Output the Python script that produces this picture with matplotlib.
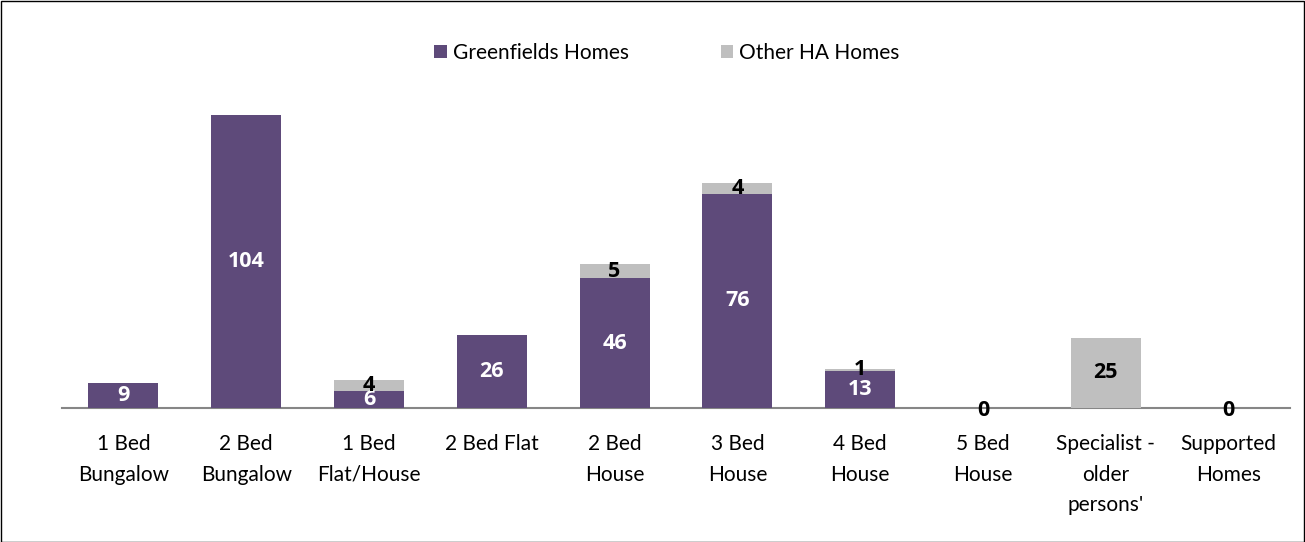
import matplotlib
matplotlib.use('Agg')
import matplotlib.pyplot as plt
import numpy as np

# categories and values
categories = ['1 Bed\nBungalow', '2 Bed\nBungalow', '1 Bed\nFlat/House', '2 Bed Flat',
              '2 Bed\nHouse', '3 Bed\nHouse', '4 Bed\nHouse', '5 Bed\nHouse',
              "Specialist -\nolder\npersons'", 'Supported\nHomes']
greenfields = [9, 104, 6, 26, 46, 76, 13, 0, 0, 0]
other_ha = [0, 0, 4, 0, 5, 4, 1, 0, 25, 0]

purple = '#5E4A7A'
grey = '#BFBFBF'

plt.rcParams['font.family'] = ['Lato', 'DejaVu Sans']
num_font = dict(family=['Open Sans', 'DejaVu Sans'], fontweight='bold', fontsize=15.5)

fig = plt.figure(figsize=(13.05, 5.42), dpi=100)
W, H = 1305, 542
ax = fig.add_axes([62 / W, (H - 408) / H, 1228 / W, 338 / H])

x = np.arange(len(categories))
g = np.array(greenfields)
o = np.array(other_ha)
b1 = ax.bar(x, g, width=0.57, color=purple, label='Greenfields Homes', zorder=2)
b2 = ax.bar(x, o, width=0.57, bottom=g, color=grey, label='Other HA Homes', zorder=2)

# data labels
for i in range(len(x)):
    if g[i] > 0:
        ax.text(x[i], g[i] / 2.0, '%d' % g[i], ha='center', va='center',
                color='white', zorder=3, **num_font)
    if o[i] > 0:
        ax.text(x[i], g[i] + o[i] / 2.0, '%d' % o[i], ha='center', va='center',
                color='black', zorder=4, **num_font)
    if g[i] == 0 and o[i] == 0:
        ax.annotate('0', (x[i], 0), xytext=(0, -2), textcoords='offset points',
                    ha='center', va='center', color='black', zorder=4, **num_font)

ax.set_xlim(-0.5, len(x) - 0.5)
ax.set_ylim(0, 120)
ax.set_yticks([])
for s in ['top', 'right', 'left']:
    ax.spines[s].set_visible(False)
ax.spines['bottom'].set_color('#868686')
ax.spines['bottom'].set_linewidth(1.5)
ax.spines['bottom'].set_zorder(1)
ax.set_xticks(x)
ax.set_xticklabels(categories, fontsize=15, linespacing=1.65, va='top')
ax.tick_params(axis='x', length=0, pad=19)

fig.legend(handles=[b1, b2], loc='center', bbox_to_anchor=(0.511, (H - 53) / H),
           ncol=2, frameon=False, fontsize=15, handlelength=0.6, handleheight=0.6,
           handletextpad=0.3, columnspacing=4.4)

# outer border
fig.patches.append(matplotlib.patches.Rectangle((0.5 / W, 0.5 / H), 1 - 1.5 / W, 1 - 1.5 / H,
                                                transform=fig.transFigure, fill=False,
                                                edgecolor='black', linewidth=1))

plt.savefig('out.png', dpi=100)
